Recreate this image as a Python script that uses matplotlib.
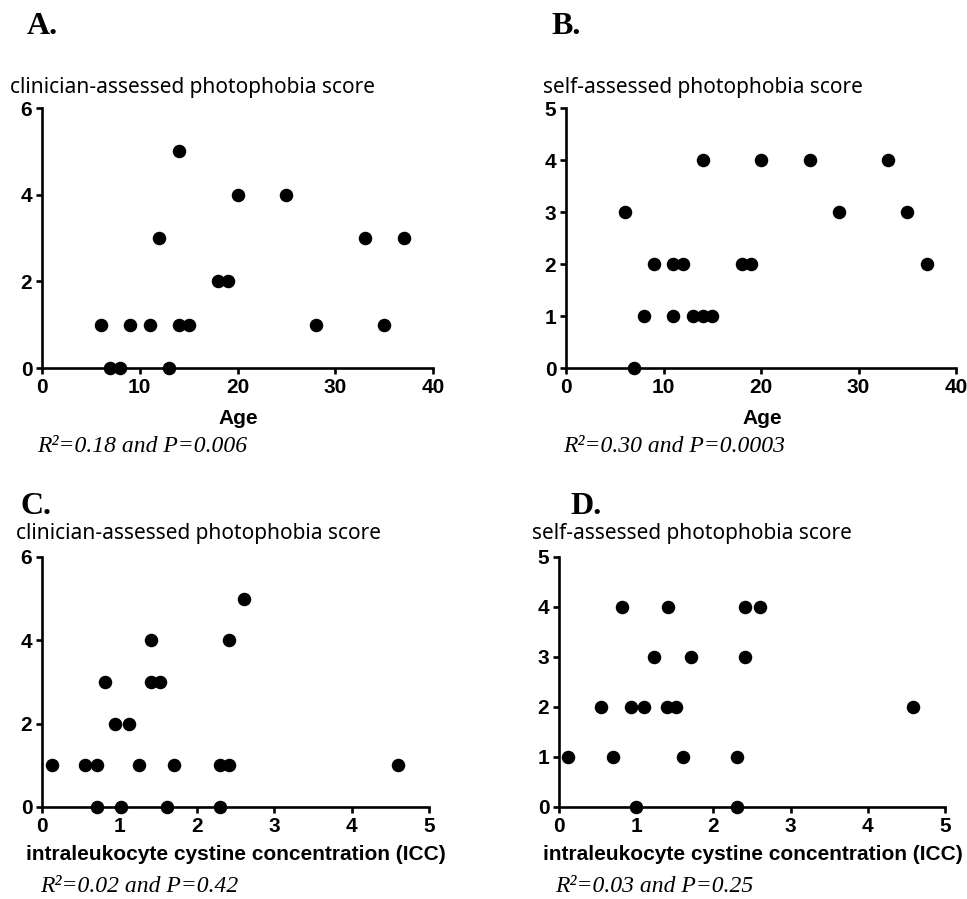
import matplotlib
matplotlib.use('Agg')
import matplotlib.pyplot as plt

# panel A / B : age vs photophobia score
age_a = [6, 7, 8, 9, 11, 12, 13, 14, 14, 15, 18, 19, 20, 25, 28, 33, 35, 37]
clin_a = [1, 0, 0, 1, 1, 3, 0, 5, 1, 1, 2, 2, 4, 4, 1, 3, 1, 3]

age_b = [6, 7, 8, 9, 11, 11, 12, 13, 14, 14, 15, 18, 19, 20, 25, 28, 33, 35, 37]
self_b = [3, 0, 1, 2, 2, 1, 2, 1, 1, 4, 1, 2, 2, 4, 4, 3, 4, 3, 2]

# panel C / D : ICC vs photophobia score
icc_c = [0.13, 0.55, 0.71, 0.71, 0.82, 0.94, 1.02, 1.12, 1.25, 1.41,
         1.41, 1.52, 1.62, 1.71, 2.30, 2.30, 2.41, 2.41, 2.61, 4.60]
clin_c = [1, 1, 1, 0, 3, 2, 0, 2, 1, 4, 3, 3, 0, 1, 1, 0, 1, 4, 5, 1]

icc_d = [0.12, 0.54, 0.70, 0.81, 0.93, 1.00, 1.10, 1.23, 1.40, 1.41,
         1.51, 1.60, 1.71, 2.30, 2.30, 2.41, 2.41, 2.60, 4.59]
self_d = [1, 2, 1, 4, 2, 0, 2, 3, 2, 4, 2, 1, 3, 1, 0, 4, 3, 4, 2]

letters = ['A.', 'B.', 'C.', 'D.']
titles = ['clinician-assessed photophobia score', 'self-assessed photophobia score',
          'clinician-assessed photophobia score', 'self-assessed photophobia score']
xlabels = ['Age', 'Age', 'intraleukocyte cystine concentration (ICC)',
           'intraleukocyte cystine concentration (ICC)']
stats = ['0.18', '0.006', '0.30', '0.0003', '0.02', '0.42', '0.03', '0.25']

W, H = 967, 899
fig = plt.figure(figsize=(W / 100, H / 100), dpi=100)


def box(x0, y0, x1, y1):
    # pixel box (top-left origin) -> figure fraction rect
    return [x0 / W, 1 - y1 / H, (x1 - x0) / W, (y1 - y0) / H]


def px(x, y):
    return x / W, 1 - y / H


def scatter_panel(rect, xs, ys, xmax, xstep, ymax, ystep):
    ax = fig.add_axes(rect)
    ax.scatter(xs, ys, s=76, color='black', zorder=3, clip_on=False)
    ax.set_xlim(0, xmax)
    ax.set_ylim(0, ymax)
    ax.set_xticks(range(0, xmax + 1, xstep))
    ax.set_yticks(range(0, ymax + 1, ystep))
    for s in ['top', 'right']:
        ax.spines[s].set_visible(False)
    for s in ['left', 'bottom']:
        ax.spines[s].set_linewidth(1.9)
    ax.tick_params(width=1.9, length=4, pad=3)
    for lab in ax.get_xticklabels() + ax.get_yticklabels():
        lab.set_fontfamily('Liberation Sans')
        lab.set_fontweight('bold')
        lab.set_fontsize(15)
    return ax


scatter_panel(box(42, 108, 433, 368), age_a, clin_a, 40, 10, 6, 2)
scatter_panel(box(566, 108, 956, 368), age_b, self_b, 40, 10, 5, 1)
scatter_panel(box(42, 557, 429, 807), icc_c, clin_c, 5, 1, 6, 2)
scatter_panel(box(559, 557, 945, 807), icc_d, self_d, 5, 1, 5, 1)

# panel letters
for t, (x, y) in zip(letters, [(27, 27), (551, 27), (20, 507), (570, 507)]):
    fig.text(*px(x, y), t, family='Liberation Serif', weight='bold', fontsize=23,
             ha='left', va='center')

# y titles
for t, (x, y) in zip(titles, [(10, 88), (543, 88), (16, 533), (532, 533)]):
    fig.text(*px(x, y), t, family='Noto Sans', fontsize=15, ha='left', va='center')

# x labels
sans_b = dict(family='Liberation Sans', weight='bold', fontsize=15, va='center')
fig.text(*px(238, 419), xlabels[0], ha='center', **sans_b)
fig.text(*px(762, 419), xlabels[1], ha='center', **sans_b)
fig.text(*px(236, 855), xlabels[2], ha='center', **sans_b)
fig.text(*px(753, 855), xlabels[3], ha='center', **sans_b)

# regression stats
for i, (x, y) in enumerate([(37, 447), (563, 447), (40, 887), (555, 887)]):
    r2, p = stats[2 * i], stats[2 * i + 1]
    fig.text(*px(x, y), 'R\u00b2=' + r2 + ' and P=' + p, family='Liberation Serif',
             style='italic', fontsize=17, ha='left', va='center')

fig.savefig('out.png', dpi=100)
